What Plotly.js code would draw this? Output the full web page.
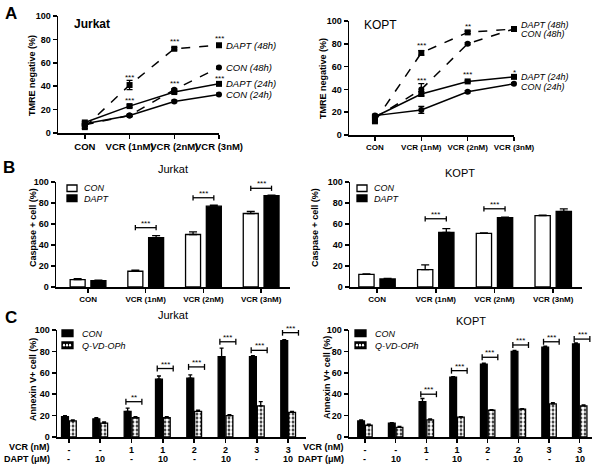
<!DOCTYPE html>
<html><head><meta charset="utf-8">
<script src="https://cdn.plot.ly/plotly-3.0.1.min.js"></script>
<style>html,body{margin:0;padding:0;background:#fff;}#chart{width:604px;height:469px;}</style>
</head><body><div id="chart"></div>
<script>
// ---------- DATA ----------
const categoriesA = ['CON', 'VCR (1nM)', 'VCR (2nM)', 'VCR (3nM)'];
const seriesA = ['DAPT (48h)', 'CON (48h)', 'DAPT (24h)', 'CON (24h)'];

const jurkatA_dapt48 = [5, 41, 72, 75];
const jurkatA_dapt48_err = [1, 4, 1, 1];
const jurkatA_con48 = [7, 15, 37, 56];
const jurkatA_con48_err = [1, 1, 1, 1];
const jurkatA_dapt24 = [9, 23, 35, 42];
const jurkatA_dapt24_err = [1, 1, 1, 1];
const jurkatA_con24 = [8, 15, 27, 33];
const jurkatA_con24_err = [1, 1, 1, 1];
const jurkatA_sigCat = [1, 1, 2, 2, 3, 3];
const jurkatA_sigY = [49.5, 29.5, 79.5, 44, 82.5, 48];
const jurkatA_sigText = ['***', '***', '***', '***', '***', '***'];

const koptA_dapt48 = [12, 72, 90, 93];
const koptA_dapt48_err = [1, 2, 1, 1];
const koptA_con48 = [15, 40, 80, 93];
const koptA_con48_err = [1, 5, 1, 1];
const koptA_dapt24 = [16, 36, 47, 51];
const koptA_dapt24_err = [1, 2, 1, 1];
const koptA_con24 = [17, 22, 38, 45];
const koptA_con24_err = [1, 3, 1, 1];
const koptA_sigCat = [1, 1, 2, 2, 3];
const koptA_sigY = [80.5, 50, 97, 54.5, 57];
const koptA_sigText = ['***', '***', '**', '***', '*'];

const seriesB = ['CON', 'DAPT'];
const jurkatB_con = [7, 15, 50, 70];
const jurkatB_con_err = [1, 1, 2.5, 2];
const jurkatB_dapt = [6, 47, 77, 87];
const jurkatB_dapt_err = [0.5, 2, 1, 0.5];
const jurkatB_sigCat = [1, 2, 3];
const jurkatB_sigY = [56.5, 85, 94];
const jurkatB_sigText = ['***', '***', '***'];

const koptB_con = [12, 16.5, 51, 68];
const koptB_con_err = [0.5, 4.5, 0.5, 0.5];
const koptB_dapt = [7.6, 52, 66, 72];
const koptB_dapt_err = [0.5, 3.5, 0.5, 2.5];
const koptB_sigCat = [1, 2];
const koptB_sigY = [65, 74.5];
const koptB_sigText = ['***', '***'];

const seriesC = ['CON', 'Q-VD-OPh'];
const vcrC = ['-', '-', '1', '1', '2', '2', '3', '3'];
const daptC = ['-', '10', '-', '10', '-', '10', '-', '10'];
const rowLabelsC = ['VCR (nM)', 'DAPT (μM)'];

const jurkatC_con = [19, 17, 24, 54, 55, 75, 75, 90];
const jurkatC_con_err = [1, 1, 3, 3, 3, 8, 1, 1];
const jurkatC_qvd = [15, 13, 18, 18, 24, 20, 29, 23];
const jurkatC_qvd_err = [1, 1, 1, 1, 1, 1, 4, 1];
const jurkatC_sigCat = [2, 3, 4, 5, 6, 7];
const jurkatC_sigY = [33, 64, 65.5, 89, 81, 97.5];
const jurkatC_sigText = ['**', '***', '***', '***', '***', '***'];

const koptC_con = [15, 13, 33, 56, 68, 80, 84, 87];
const koptC_con_err = [1, 0.5, 3, 0.5, 1, 1, 1, 1];
const koptC_qvd = [11, 9, 16, 18.5, 25, 26, 31, 29];
const koptC_qvd_err = [1, 1, 1, 0.5, 0.5, 0.5, 1, 1];
const koptC_sigCat = [2, 3, 4, 5, 6, 7];
const koptC_sigY = [40, 62, 74.5, 86, 89, 91.5];
const koptC_sigText = ['***', '***', '***', '***', '***', '***'];

// ---------- HELPERS ----------
const W = 604, H = 469;
const px = x => x / W;
const py = y => 1 - y / H;
const F = 'Liberation Sans, Arial, sans-serif';
const idx = arr => arr.map((_, i) => i);
const zeros = arr => arr.map(() => 0);

const common = {
  showline: true, linecolor: '#000', linewidth: 1.5,
  ticks: 'outside', ticklen: 4, tickwidth: 1.5, tickcolor: '#000',
  showgrid: false, zeroline: false, fixedrange: true, tickangle: 0, automargin: false
};
function xAx(p0, p1, range, ticktext, size, anchor) {
  return Object.assign({}, common, {
    domain: [px(p0), px(p1)], range, anchor,
    tickmode: 'array', tickvals: idx(ticktext), ticktext,
    tickfont: {family: F, size, weight: 'bold', color: '#000'}
  });
}
function yAx(top, bottom, anchor) {
  return Object.assign({}, common, {
    domain: [py(bottom), py(top)], range: [0, 100], anchor,
    tickmode: 'array', tickvals: [0, 20, 40, 60, 80, 100],
    tickfont: {family: F, size: 9, weight: 'bold', color: '#000'}
  });
}

const traces = [];
const annotations = [];
const shapes = [];

function lineTrace(xa, ya, cats, vals, err, dashed, symbol) {
  traces.push({
    type: 'scatter', mode: 'lines+markers', xaxis: xa, yaxis: ya,
    x: idx(cats), y: vals, cliponaxis: false, showlegend: false,
    line: {color: '#000', width: 1.5, dash: dashed ? 'dash' : 'solid'},
    marker: {color: '#000', size: 6, symbol},
    error_y: {type: 'data', array: err, color: '#000', thickness: 1.3, width: 3}
  });
}
function barTrace(xa, ya, vals, err, offset, width, fill, patterned, ewidth) {
  const marker = {color: fill, line: {color: '#000', width: 1.3}};
  if (patterned) marker.pattern = {shape: '.', bgcolor: '#000', fgcolor: '#fff', size: 4, solidity: 0.7};
  traces.push({
    type: 'bar', xaxis: xa, yaxis: ya, x: idx(vals), y: vals, offset, width,
    marker, showlegend: false, cliponaxis: false,
    error_y: {type: 'data', symmetric: false, array: err, arrayminus: zeros(err), color: '#000', thickness: 1.3, width: ewidth}
  });
}
function brackets(xa, ya, cats, ys, texts, bl, br, cap, fs) {
  const X = [], Y = [];
  cats.forEach((c, i) => {
    const l = c + bl, r = c + br, h = ys[i];
    X.push(l, l, null, l, r, null, r, r, null);
    Y.push(h - cap, h + cap, null, h, h, null, h - cap, h + cap, null);
    annotations.push({xref: xa, yref: ya, x: c + (bl + br) / 2, y: h, text: texts[i], showarrow: false,
      xanchor: 'center', yanchor: 'bottom', yshift: -2, font: {family: F, size: fs, color: '#000'}});
  });
  traces.push({type: 'scatter', mode: 'lines', xaxis: xa, yaxis: ya, x: X, y: Y, cliponaxis: false,
    showlegend: false, line: {color: '#000', width: 1.3}, hoverinfo: 'skip'});
}
function sigText(xa, ya, cats, ys, texts) {
  cats.forEach((c, i) => annotations.push({xref: xa, yref: ya, x: c, y: ys[i], text: texts[i], showarrow: false,
    xanchor: 'center', yanchor: 'middle', yshift: -2, font: {family: F, size: 8, color: '#000'}}));
}
function seriesLabel(xa, ya, x, y, text, yshift, size) {
  annotations.push({xref: xa, yref: ya, x, y, text, showarrow: false, xanchor: 'left', yanchor: 'middle', xshift: 5, yshift,
    font: {family: F, size, style: 'italic', color: '#000'}});
}
function pText(x, y, text, size, opts) {
  annotations.push(Object.assign({xref: 'paper', yref: 'paper', x: px(x), y: py(y), text, showarrow: false,
    xanchor: 'center', yanchor: 'middle',
    font: Object.assign({family: F, size, color: '#000'}, (opts && opts.font) || {})}, (opts && opts.a) || {}));
}
function yTitle(x, y, text) {
  pText(x, y, text, 9, {font: {weight: 'bold'}, a: {textangle: -90}});
}
function rect(x0, y0, x1, y1, fill) {
  shapes.push({type: 'rect', xref: 'paper', yref: 'paper', x0: px(x0), x1: px(x1), y0: py(y1), y1: py(y0),
    fillcolor: fill, line: {color: '#000', width: 1.3}});
}
function dots(x0, x1, yc) {
  for (let xx = x0 + 2; xx < x1 - 1; xx += 3) {
    shapes.push({type: 'circle', xref: 'paper', yref: 'paper', x0: px(xx - 1.1), x1: px(xx + 1.1), y0: py(yc + 1.4), y1: py(yc - 1.4),
      fillcolor: '#fff', line: {width: 0}});
  }
}
function secondRow(xa, labels, y) {
  labels.forEach((t, i) => annotations.push({xref: xa, yref: 'paper', x: i, y: py(y), text: t, showarrow: false,
    xanchor: 'center', yanchor: 'middle', font: {family: F, size: 9, weight: 'bold', color: '#000'}}));
}

// ---------- PANEL A ----------
const aJ = [jurkatA_dapt48, jurkatA_con48, jurkatA_dapt24, jurkatA_con24];
const aJe = [jurkatA_dapt48_err, jurkatA_con48_err, jurkatA_dapt24_err, jurkatA_con24_err];
const aK = [koptA_dapt48, koptA_con48, koptA_dapt24, koptA_con24];
const aKe = [koptA_dapt48_err, koptA_con48_err, koptA_dapt24_err, koptA_con24_err];
const dashes = [true, true, false, false];
const syms = ['square', 'circle', 'square', 'circle'];
aJ.forEach((v, i) => lineTrace('x', 'y', categoriesA, v, aJe[i], dashes[i], syms[i]));
aK.forEach((v, i) => lineTrace('x2', 'y2', categoriesA, v, aKe[i], dashes[i], syms[i]));
sigText('x', 'y', jurkatA_sigCat, jurkatA_sigY, jurkatA_sigText);
sigText('x2', 'y2', koptA_sigCat, koptA_sigY, koptA_sigText);
const last = categoriesA.length - 1;
const jShift = [0, 0, 0, 0], kShift = [4, -5, 0, -3];
seriesA.forEach((s, i) => seriesLabel('x', 'y', last, aJ[i][last], s, jShift[i], 9.5));
seriesA.forEach((s, i) => seriesLabel('x2', 'y2', last, aK[i][last], s, kShift[i], 9));

// ---------- PANEL B ----------
barTrace('x3', 'y3', jurkatB_con, jurkatB_con_err, -0.31, 0.26, '#fff', false, 4);
barTrace('x3', 'y3', jurkatB_dapt, jurkatB_dapt_err, 0.05, 0.26, '#000', false, 4);
barTrace('x4', 'y4', koptB_con, koptB_con_err, -0.31, 0.26, '#fff', false, 4);
barTrace('x4', 'y4', koptB_dapt, koptB_dapt_err, 0.05, 0.26, '#000', false, 4);
brackets('x3', 'y3', jurkatB_sigCat, jurkatB_sigY, jurkatB_sigText, -0.18, 0.18, 2.5, 8);
brackets('x4', 'y4', koptB_sigCat, koptB_sigY, koptB_sigText, -0.18, 0.18, 2.5, 8);

// ---------- PANEL C ----------
barTrace('x5', 'y5', jurkatC_con, jurkatC_con_err, -0.235, 0.22, '#000', false, 2);
barTrace('x5', 'y5', jurkatC_qvd, jurkatC_qvd_err, 0.015, 0.22, '#000', true, 2);
barTrace('x6', 'y6', koptC_con, koptC_con_err, -0.235, 0.22, '#000', false, 2);
barTrace('x6', 'y6', koptC_qvd, koptC_qvd_err, 0.015, 0.22, '#000', true, 2);
brackets('x5', 'y5', jurkatC_sigCat, jurkatC_sigY, jurkatC_sigText, -0.18, 0.33, 2.8, 8);
brackets('x6', 'y6', koptC_sigCat, koptC_sigY, koptC_sigText, -0.18, 0.33, 2.8, 8);
secondRow('x5', daptC, 459);
secondRow('x6', daptC, 459);

// ---------- TEXT ----------
pText(11, 14, 'A', 17, {font: {weight: 'bold'}});
pText(9, 167, 'B', 17, {font: {weight: 'bold'}});
pText(11, 317, 'C', 17, {font: {weight: 'bold'}});
pText(92, 24, 'Jurkat', 12, {font: {weight: 'bold'}});
pText(380, 25, 'KOPT', 12);
pText(173, 169, 'Jurkat', 11);
pText(460, 173, 'KOPT', 11);
pText(173, 315, 'Jurkat', 11);
pText(471, 321, 'KOPT', 11);
yTitle(32, 76, 'TMRE negative (%)');
yTitle(323, 79, 'TMRE negative (%)');
yTitle(33, 228, 'Caspase + cell (%)');
yTitle(315, 228, 'Caspase + cell (%)');
yTitle(33, 380, 'Annexin V+ cell (%)');
yTitle(327, 378, 'Annexin V+ cell (%)');
[[52, 447], [52, 459]].forEach((p, i) => pText(p[0], p[1], rowLabelsC[i], 9, {font: {weight: 'bold'}, a: {xanchor: 'right'}}));
[[346, 447], [346, 459]].forEach((p, i) => pText(p[0], p[1], rowLabelsC[i], 9, {font: {weight: 'bold'}, a: {xanchor: 'right'}}));

// legends
function legendB(x0, names) {
  rect(x0, 185, x0 + 10, 191.5, '#fff');
  rect(x0, 195, x0 + 10, 201.5, '#000');
  pText(x0 + 15, 188, names[0], 9, {font: {style: 'italic'}, a: {xanchor: 'left'}});
  pText(x0 + 15, 198.5, names[1], 9, {font: {style: 'italic'}, a: {xanchor: 'left'}});
}
legendB(67, seriesB);
legendB(357, seriesB);
function legendC(x0, names) {
  rect(x0, 330, x0 + 11, 336.5, '#000');
  rect(x0, 342, x0 + 11, 348.5, '#000');
  dots(x0, x0 + 11, 345.2);
  pText(x0 + 18, 333.5, names[0], 9, {font: {style: 'italic'}, a: {xanchor: 'left'}});
  pText(x0 + 18, 345.5, names[1], 9, {font: {style: 'italic'}, a: {xanchor: 'left'}});
}
legendC(62, seriesC);
legendC(355, seriesC);

// ---------- LAYOUT ----------
const layout = {
  width: W, height: H, margin: {l: 0, r: 0, t: 0, b: 0}, autosize: false,
  paper_bgcolor: '#fff', plot_bgcolor: 'rgba(0,0,0,0)', showlegend: false, barmode: 'overlay',
  font: {family: F, color: '#000'},
  xaxis: xAx(58, 219, [-0.6, 3], categoriesA, 9.5, 'y'),
  yaxis: yAx(16, 133, 'x'),
  xaxis2: xAx(349, 514, [-0.56, 3], categoriesA, 8, 'y2'),
  yaxis2: yAx(21, 135, 'x2'),
  xaxis3: xAx(56, 290, [-0.555, 3.5], categoriesA, 8, 'y3'),
  yaxis3: yAx(182, 287, 'x3'),
  xaxis4: xAx(350, 582, [-0.46, 3.49], categoriesA, 8, 'y4'),
  yaxis4: yAx(182, 287, 'x4'),
  xaxis5: xAx(57, 306, [-0.38, 7.57], vcrC, 9, 'y5'),
  yaxis5: yAx(330, 437, 'x5'),
  xaxis6: xAx(349, 592, [-0.52, 7.4], vcrC, 9, 'y6'),
  yaxis6: yAx(330, 437, 'x6'),
  annotations, shapes
};
Plotly.newPlot('chart', traces, layout, {staticPlot: true, displayModeBar: false});
</script>
</body></html>
